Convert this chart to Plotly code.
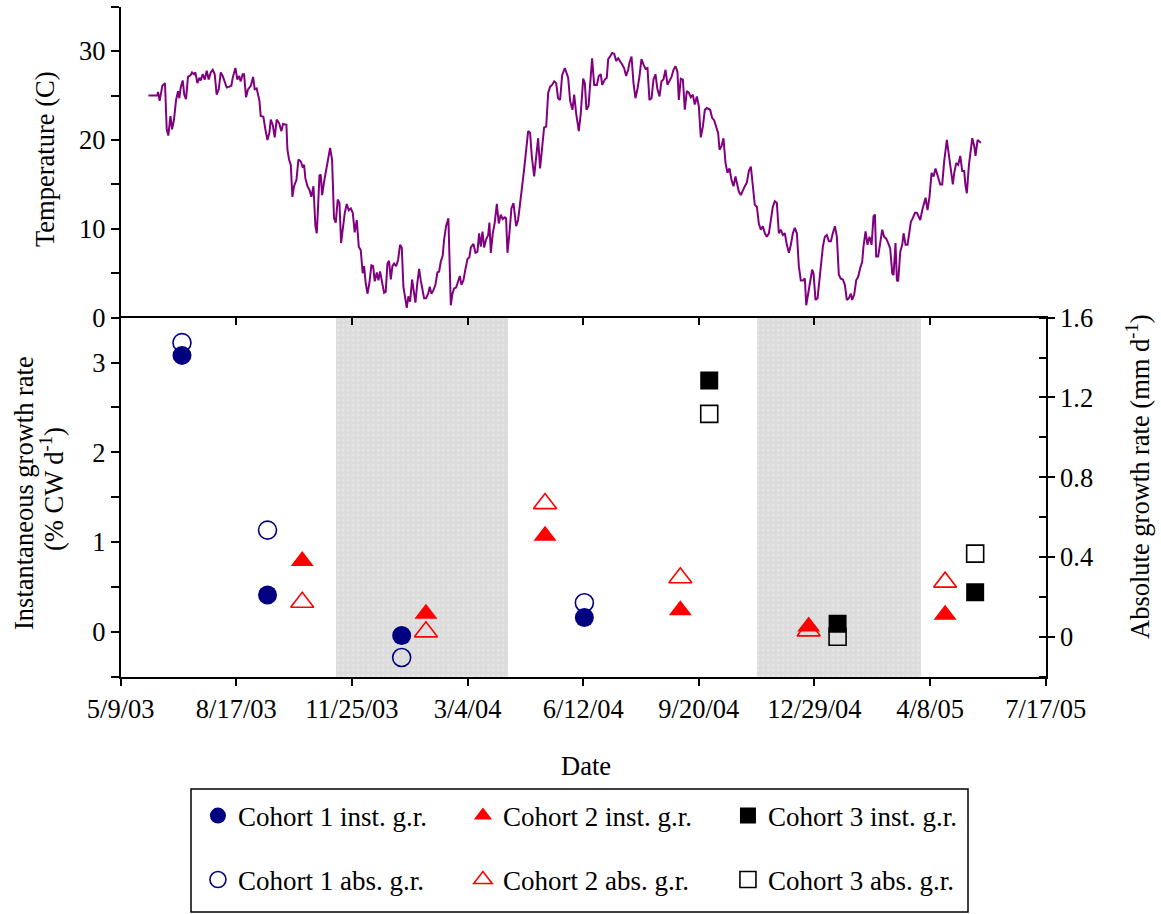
import pandas as pd
import plotly.graph_objects as go

START = "2003-05-09"
END = "2005-07-17"

# Water temperature: (days since 5/9/03, degrees C)
temp_series = [
    (24, 25.0), (31.7, 25.0), (32.3, 25.4), (33.7, 24.4), (36, 26.1), (38.3, 26.4), (39.8, 21.2), (41.2, 20.5),
    (43, 22.7), (44.4, 21.2), (46.1, 22.3), (47.9, 24.5), (49.6, 25.5), (50.7, 24.7), (51.9, 25.9), (53.6, 26.7),
    (55, 25.1), (56.5, 24.6), (58.2, 27.1), (60.5, 27.3), (61.7, 27.6), (63.4, 27.4), (64.6, 27.6), (66.3, 26.4),
    (68, 27.0), (69.2, 26.7), (70.9, 27.4), (72.7, 26.8), (74.4, 27.8), (76.1, 26.8), (77.9, 27.6), (79.6, 27.9),
    (81.3, 27.4), (83, 25.1), (84.8, 25.7), (86.5, 27.6), (88.2, 27.2), (90, 26.4), (91.7, 25.9), (94, 26.0),
    (95.7, 26.1), (96.9, 27.0), (99.2, 28.1), (100.9, 26.8), (102.4, 27.2), (103.8, 26.6), (105.5, 27.4),
    (106.7, 27.4), (108.4, 24.8), (110.1, 25.7), (112.5, 26.1), (114.5, 27.1), (115.9, 25.7), (117.6, 25.8),
    (120, 24.4), (121.1, 22.7), (123.4, 22.6), (125.1, 21.2), (126.9, 20.0), (128.6, 20.8), (129.8, 22.3),
    (131.5, 21.7), (133.2, 20.3), (134.9, 22.3), (137, 21.9), (139, 21.0), (140.4, 21.8), (143.3, 21.7),
    (144.2, 18.9), (145.6, 17.8), (147.1, 17.2), (148.5, 13.6), (149.9, 14.8), (152, 15.5), (153.7, 17.8),
    (155.7, 17.6), (157.2, 17.0), (158.6, 17.2), (159.7, 15.7), (161.5, 14.8), (163.2, 14.4), (164.9, 13.6),
    (166.7, 14.8), (168.4, 10.3), (169.6, 9.5), (170.7, 12.5), (171.9, 16.0), (173, 16.1), (174.2, 13.8),
    (175.9, 15.3), (177.6, 16.7), (179.4, 17.8), (181.1, 19.1), (182.8, 17.8), (184.5, 11.2), (186, 10.7),
    (187.7, 13.3), (189.2, 12.9), (190.6, 8.4), (192, 9.9), (193.8, 11.8), (195.5, 12.8), (197.2, 12.1),
    (199, 12.3), (200.7, 11.8), (202.4, 9.6), (204.2, 11.0), (205.9, 8.0), (207.6, 7.6), (209.3, 5.0),
    (210.5, 5.8), (211.9, 3.9), (213.4, 2.7), (215.1, 3.9), (216.8, 5.9), (218.3, 5.8), (219.7, 4.1),
    (221.5, 5.1), (222.9, 4.2), (224.3, 5.2), (226.1, 3.7), (227.8, 2.8), (229.2, 2.9), (230.7, 6.1),
    (232.1, 6.4), (233.6, 4.3), (235, 5.8), (236.4, 6.1), (238.2, 5.8), (239.9, 6.5), (241.6, 8.2),
    (243.1, 7.9), (244.5, 3.5), (246, 2.2), (247.4, 1.1), (248.8, 2.4), (250.3, 1.8), (252, 4.3),
    (253.5, 2.9), (254.9, 1.7), (256.3, 3.6), (258.1, 5.5), (259.5, 4.2), (261, 3.3), (262.4, 2.2),
    (264.1, 2.2), (265.9, 2.7), (267.3, 3.5), (268.7, 2.7), (270.5, 3.1), (272.2, 3.7), (273.9, 5.1),
    (275.4, 5.2), (276.8, 6.3), (278.5, 7.0), (279.7, 8.8), (281.4, 10.3), (283.4, 11.2), (285.5, 1.4),
    (286.9, 2.7), (288.4, 3.3), (290.1, 3.4), (291.8, 4.1), (293.3, 4.7), (294.7, 3.7), (296.4, 4.2),
    (298.2, 5.5), (299.9, 6.6), (301.6, 6.8), (302.8, 7.9), (305.1, 8.3), (306.8, 7.3), (308.5, 7.4),
    (310, 9.5), (311.4, 8.0), (312.9, 9.7), (314.3, 7.9), (316, 8.8), (317.8, 9.3), (318.9, 10.7),
    (320.1, 7.3), (321.8, 9.5), (323.5, 10.7), (325.3, 12.8), (327, 10.6), (328.7, 11.6), (330.4, 11.1),
    (332.2, 11.3), (333.3, 11.2), (334.5, 7.3), (336.2, 9.5), (337.9, 12.3), (339.7, 12.9), (340.8, 11.2),
    (342, 10.3), (343.7, 11.0), (345.4, 12.6), (347.2, 14.8), (348.9, 16.7), (350.6, 18.9), (352.4, 21.0),
    (354.1, 20.8), (355.5, 18.2), (357.6, 15.9), (359.3, 18.5), (361, 20.2), (362.7, 16.8), (364.5, 19.3),
    (366.2, 21.4), (368, 21.5), (369.7, 25.3), (371.4, 26.0), (373.1, 26.2), (374.9, 26.6), (376.6, 26.4),
    (378.3, 24.7), (380, 24.5), (381.8, 27.3), (384.1, 28.1), (387, 27.0), (388.7, 24.4), (390.7, 23.4),
    (392.2, 25.1), (393.9, 23.0), (396.2, 21.0), (397.9, 23.0), (400, 26.9), (401.4, 26.4), (402.8, 23.4),
    (404.6, 23.8), (406.3, 27.0), (407.7, 29.2), (409.5, 26.2), (411.8, 26.2), (413.5, 27.2), (415.2, 27.4),
    (416.4, 26.2), (418.7, 26.8), (420.4, 27.0), (421.6, 29.1), (423.3, 29.4), (425.0, 29.8), (426.8, 29.7),
    (428.5, 28.9), (430.2, 29.2), (432.0, 28.9), (433.7, 28.5), (435.4, 28.1), (437.1, 27.2), (438.9, 27.9),
    (440.0, 28.7), (441.8, 29.4), (443.5, 26.4), (445.2, 24.7), (446.9, 25.7), (448.7, 27.2), (450.4, 29.1),
    (452.1, 28.5), (453.9, 28.0), (455.6, 28.1), (457.3, 24.5), (459.1, 24.7), (460.8, 26.8), (462.5, 27.4),
    (464.2, 25.7), (466.0, 24.9), (467.7, 26.6), (469.4, 26.8), (471.2, 27.9), (472.9, 26.2), (474.6, 26.6),
    (476.4, 27.1), (478.1, 27.9), (479.8, 28.3), (481.5, 27.7), (482.7, 24.5), (484.4, 26.9), (486.2, 26.8),
    (487.9, 23.4), (489.6, 25.5), (491.4, 25.3), (493.1, 24.8), (494.8, 25.1), (496.5, 24.0), (498.3, 24.9),
    (500.0, 23.8), (501.7, 20.3), (503.5, 21.5), (505.2, 23.4), (506.9, 23.6), (509.8, 23.4), (511.5, 22.5),
    (513.3, 22.2), (515.0, 21.5), (516.7, 20.8), (517.9, 18.9), (519.6, 19.3), (521.3, 20.2), (523.1, 17.4),
    (524.8, 16.3), (526.5, 16.8), (528.3, 15.5), (530.0, 14.8), (531.7, 15.9), (532.9, 15.0), (534.6, 14.2),
    (536.3, 13.8), (538.1, 14.4), (539.8, 14.8), (541.5, 15.2), (543.3, 16.5), (545.0, 17.0), (546.7, 14.8),
    (548.4, 12.7), (550.2, 12.5), (551.9, 10.6), (553.6, 9.9), (555.4, 10.3), (557.1, 9.5), (558.8, 9.1),
    (560.6, 9.5), (562.3, 11.2), (564.0, 12.5), (565.7, 13.1), (567.5, 12.9), (569.2, 9.5), (570.9, 9.9),
    (572.7, 9.3), (574.4, 9.5), (576.1, 8.2), (577.9, 7.3), (579.6, 8.2), (581.3, 9.5), (583.0, 10.1),
    (584.8, 9.5), (586.5, 5.8), (588.2, 4.2), (590.0, 4.2), (591.7, 4.4), (592.9, 1.4), (594.6, 2.7),
    (596.3, 4.2), (598.0, 5.4), (599.2, 5.0), (600.9, 2.0), (602.7, 2.2), (604.4, 4.2), (606.1, 6.1),
    (607.3, 8.0), (609.0, 9.1), (610.7, 9.3), (612.5, 8.6), (614.2, 8.6), (615.9, 9.5), (617.7, 10.3),
    (619.4, 9.1), (621.1, 4.8), (622.8, 4.4), (624.6, 4.3), (626.3, 3.7), (628.0, 2.0), (629.8, 2.2),
    (631.5, 2.7), (632.6, 2.0), (634.4, 2.6), (636.1, 4.2), (637.8, 4.6), (639.6, 5.6), (641.3, 6.3),
    (642.4, 8.0), (644.2, 9.7), (645.9, 8.2), (647.6, 9.1), (649.4, 8.2), (651.1, 11.4), (652.3, 11.6),
    (653.4, 6.9), (655.1, 6.9), (656.9, 8.6), (658.6, 9.9), (660.3, 9.1), (662.1, 8.9), (663.8, 8.4),
    (665.5, 7.8), (667.3, 5.0), (668.4, 4.8), (670.1, 8.4), (671.3, 4.2), (672.4, 4.1), (674.2, 7.4),
    (675.9, 8.2), (677.1, 9.5), (678.8, 8.2), (680.5, 8.2), (682.2, 9.7), (683.4, 10.8), (685.1, 11.2),
    (686.9, 11.8), (688.6, 11.8), (690.3, 11.4), (691.5, 11.0), (693.2, 12.1), (694.4, 12.6), (696.1, 13.5),
    (697.8, 12.1), (699.5, 13.6), (701.3, 16.3), (703.0, 15.9), (704.7, 16.8), (706.5, 15.9), (708.8, 15.0),
    (710.5, 15.0), (712.2, 17.6), (714.5, 20.0), (716.3, 18.3), (718.0, 16.1), (719.7, 15.0), (720.9, 16.3),
    (722.6, 17.4), (724.3, 17.2), (726.1, 18.2), (727.8, 16.5), (729.5, 16.5), (730.7, 14.8), (731.8, 14.0),
    (733.6, 17.2), (734.7, 18.5), (736.5, 20.2), (738.2, 19.3), (739.3, 18.2), (741.1, 20.0), (742.8, 19.8),
    (743.9, 19.7),
]

# Growth rates (inst. = % CW per day, left axis; abs. = mm per day, right axis)
c1_dates = ["2003-07-01", "2003-09-13", "2004-01-07", "2004-06-13"]
c1_inst = [3.08, 0.41, -0.04, 0.16]
c1_abs = [1.475, 0.535, -0.104, 0.171]

c2_dates = ["2003-10-13", "2004-01-28", "2004-05-10", "2004-09-04", "2004-12-24", "2005-04-21"]
c2_inst = [0.79, 0.20, 1.07, 0.24, 0.06, 0.19]
c2_abs = [0.173, 0.025, 0.668, 0.296, 0.03, 0.274]

c3_dates = ["2004-09-29", "2005-01-18", "2005-05-17"]
c3_inst = [2.80, 0.09, 0.44]
c3_abs = [1.118, 0.0, 0.417]

# shaded (winter) periods
winter_start = ["2003-11-11", "2004-11-09"]
winter_end = ["2004-04-08", "2005-03-31"]

# axis ticks
temp_ticks = [0, 10, 20, 30]
temp_minor = [5, 15, 25, 35]
inst_ticks = [0, 1, 2, 3]
inst_minor = [-0.5, 0.5, 1.5, 2.5, 3.5]
abs_ticks = [0, 0.4, 0.8, 1.2, 1.6]
abs_labels = ["0", "0.4", "0.8", "1.2", "1.6"]
abs_minor = [-0.2, 0, 0.2, 0.4, 0.6, 0.8, 1.0, 1.2, 1.4, 1.6]
date_step_days = 100

FONT = "Liberation Serif, Times New Roman, serif"
FS = 26.5
LFS = 27
W, H = 1161, 914

start = pd.Timestamp(START)
t_x = [start + pd.to_timedelta(d, unit="D") for d, _ in temp_series]
t_y = [v for _, v in temp_series]
date_ticks = [start + pd.Timedelta(days=date_step_days * k) for k in range(9)]

XD = [120.7 / W, 1045.7 / W]
BOT = [(H - 676.7) / H, (H - 317.7) / H]
TOP = [(H - 317.7) / H, (H - 6.7) / H]
xr = [START, END]

fig = go.Figure()

# shaded winter bars (dotted grey)
ws = pd.to_datetime(winter_start)
we = pd.to_datetime(winter_end)
mid = ws + (we - ws) / 2
widths = [(e - s).total_seconds() * 1000 for s, e in zip(ws, we)]
fig.add_trace(go.Bar(
    x=mid, y=[1.8, 1.8], base=[-0.2, -0.2], width=widths,
    xaxis="x2", yaxis="y2", showlegend=False, hoverinfo="skip",
    marker=dict(color="#dcdcdc", line=dict(width=0),
                pattern=dict(shape=".", fgcolor="white", bgcolor="#dcdcdc", size=5, solidity=0.12)),
))

# temperature line
fig.add_trace(go.Scatter(x=t_x, y=t_y, mode="lines", xaxis="x", yaxis="y",
                         line=dict(color="#800080", width=2), showlegend=False))

# absolute growth (right axis, base)
fig.add_trace(go.Scatter(x=c1_dates, y=c1_abs, mode="markers", xaxis="x2", yaxis="y2",
                         name="Cohort 1 abs. g.r.", legend="legend2",
                         marker=dict(symbol="circle-open", size=18, color="#000080", line=dict(width=1.6))))
fig.add_trace(go.Scatter(x=c2_dates, y=c2_abs, mode="markers", xaxis="x2", yaxis="y2",
                         name="Cohort 2 abs. g.r.", legend="legend2",
                         marker=dict(symbol="triangle-up-open", size=20, color="#ff0000", line=dict(width=1.6))))
fig.add_trace(go.Scatter(x=c3_dates, y=c3_abs, mode="markers", xaxis="x2", yaxis="y2",
                         name="Cohort 3 abs. g.r.", legend="legend2",
                         marker=dict(symbol="square-open", size=17, color="#000000", line=dict(width=1.6))))

# instantaneous growth (left axis, overlay)
fig.add_trace(go.Scatter(x=c1_dates, y=c1_inst, mode="markers", xaxis="x2", yaxis="y3",
                         name="Cohort 1 inst. g.r.", legend="legend",
                         marker=dict(symbol="circle", size=19, color="#000080")))
fig.add_trace(go.Scatter(x=c2_dates, y=c2_inst, mode="markers", xaxis="x2", yaxis="y3",
                         name="Cohort 2 inst. g.r.", legend="legend",
                         marker=dict(symbol="triangle-up", size=20, color="#ff0000")))
fig.add_trace(go.Scatter(x=c3_dates, y=c3_inst, mode="markers", xaxis="x2", yaxis="y3",
                         name="Cohort 3 inst. g.r.", legend="legend",
                         marker=dict(symbol="square", size=18, color="#000000")))

# dummy trace for the top frame axis of the bottom panel
fig.add_trace(go.Scatter(x=[], y=[], xaxis="x3", yaxis="y2", showlegend=False))

tickfont = dict(family=FONT, size=FS, color="black")
common = dict(showgrid=False, zeroline=False, linecolor="black", linewidth=2, automargin=False,
              tickcolor="black", tickwidth=2, tickfont=tickfont)

fig.update_layout(
    width=W, height=H, margin=dict(l=0, r=0, t=0, b=0, autoexpand=False),
    paper_bgcolor="white", plot_bgcolor="rgba(0,0,0,0)",
    font=dict(family=FONT, size=FS, color="black"),
    bargap=0,
    xaxis=dict(domain=XD, anchor="y", range=xr, type="date", visible=False, automargin=False),
    yaxis=dict(domain=TOP, anchor="x", range=[0, 35], showline=True, ticks="outside", ticklen=8,
               tickmode="array", tickvals=temp_ticks,
               minor=dict(tickmode="array", tickvals=temp_minor, ticks="outside", ticklen=8,
                          tickwidth=2, tickcolor="black"),
               **common),
    xaxis2=dict(domain=XD, anchor="y2", range=xr, type="date", showline=True, ticks="outside", ticklen=7,
                tickmode="array", tickvals=date_ticks, tickformat="%-m/%-d/%y", **common),
    xaxis3=dict(domain=XD, anchor="y2", overlaying="x2", side="top", range=xr, type="date",
                showline=True, ticks="inside", ticklen=7, tickmode="array", tickvals=date_ticks,
                showticklabels=False, **common),
    yaxis2=dict(domain=BOT, anchor="x2", side="right", range=[-0.2, 1.6], showline=True,
                ticks="outside", ticklen=7, tickmode="array", tickvals=abs_ticks, ticktext=abs_labels,
                minor=dict(tickmode="array", tickvals=abs_minor, ticks="inside", ticklen=7,
                           tickwidth=2, tickcolor="black"),
                **common),
    yaxis3=dict(domain=BOT, anchor="x2", overlaying="y2", side="left", range=[-0.5, 3.5], showline=True,
                ticks="outside", ticklen=8, tickmode="array", tickvals=inst_ticks,
                minor=dict(tickmode="array", tickvals=inst_minor, ticks="outside", ticklen=8,
                           tickwidth=2, tickcolor="black"),
                **common),
    legend=dict(x=0.1705, y=(H - 816) / H, xanchor="left", yanchor="middle", orientation="h",
                entrywidth=220, bgcolor="rgba(0,0,0,0)", font=dict(family=FONT, size=LFS, color="black")),
    legend2=dict(x=0.1705, y=(H - 880) / H, xanchor="left", yanchor="middle", orientation="h",
                 entrywidth=220, bgcolor="rgba(0,0,0,0)", font=dict(family=FONT, size=LFS, color="black")),
    shapes=[dict(type="rect", xref="paper", yref="paper",
                 x0=191 / W, x1=968 / W, y0=(H - 912) / H, y1=(H - 789) / H,
                 line=dict(color="black", width=1.5), fillcolor="rgba(0,0,0,0)")],
)

ann_font = dict(family=FONT, size=FS, color="black")
ann_common = dict(xref="paper", yref="paper", showarrow=False, font=ann_font,
                  xanchor="center", yanchor="middle")
fig.add_annotation(text="Temperature (C)", x=45 / W, y=(H - 160) / H, textangle=-90, **ann_common)
fig.add_annotation(text="Instantaneous growth rate", x=24 / W, y=(H - 493) / H, textangle=-90, **ann_common)
fig.add_annotation(text="(% CW d<sup>-1</sup>)", x=52 / W, y=(H - 489) / H, textangle=-90, **ann_common)
fig.add_annotation(text="Absolute growth rate (mm d<sup>-1</sup>)", x=1138 / W, y=(H - 477) / H,
                   textangle=-90, **ann_common)
fig.add_annotation(text="Date", x=586 / W, y=(H - 766) / H, **ann_common)

fig.write_html("out.html")
